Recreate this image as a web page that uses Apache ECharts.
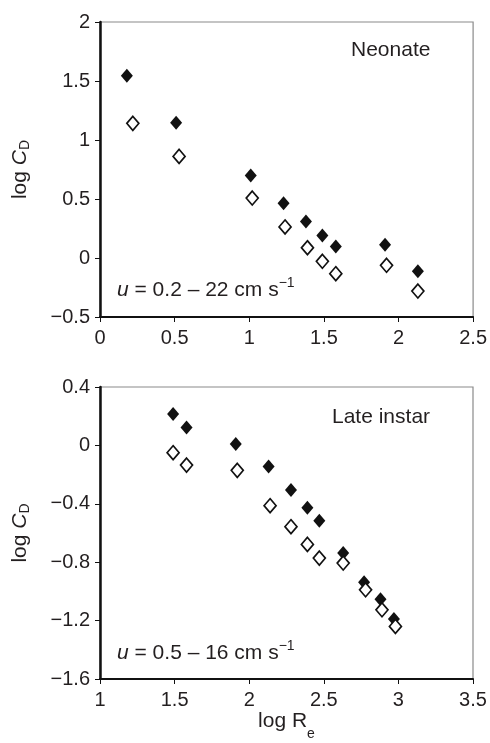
<!DOCTYPE html>
<html><head><meta charset="utf-8">
<script src="https://cdn.jsdelivr.net/npm/echarts@6/dist/echarts.min.js"></script>
<style>html,body{margin:0;padding:0;background:#fff}#c{width:490px;height:743px}</style>
</head><body><div id="c"></div>
<script>
// ---- Data ----
// Neonate panel
const neoFilledLogRe = [0.18, 0.51, 1.01, 1.23, 1.38, 1.49, 1.58, 1.91, 2.13];
const neoFilledLogCd = [1.545, 1.147, 0.70, 0.463, 0.31, 0.19, 0.098, 0.113, -0.113];
const neoOpenLogRe   = [0.22, 0.53, 1.02, 1.24, 1.39, 1.49, 1.58, 1.92, 2.13];
const neoOpenLogCd   = [1.141, 0.861, 0.508, 0.263, 0.087, -0.028, -0.133, -0.062, -0.28];
// Late instar panel
const lateFilledLogRe = [1.49, 1.58, 1.91, 2.13, 2.28, 2.39, 2.47, 2.63, 2.77, 2.88, 2.97];
const lateFilledLogCd = [0.215, 0.123, 0.009, -0.144, -0.306, -0.427, -0.516, -0.737, -0.938, -1.053, -1.189];
const lateOpenLogRe   = [1.49, 1.58, 1.92, 2.14, 2.28, 2.39, 2.47, 2.63, 2.78, 2.89, 2.98];
const lateOpenLogCd   = [-0.05, -0.135, -0.171, -0.413, -0.557, -0.678, -0.772, -0.806, -0.989, -1.126, -1.24];
// Axis ranges / ticks
const neoXRange = [0, 2.5, 0.5];
const neoYRange = [-0.5, 2, 0.5];
const lateXRange = [1, 3.5, 0.5];
const lateYRange = [-1.6, 0.4, 0.4];
// Texts
const panelTitles = ['Neonate', 'Late instar'];
const speedRanges = ['0.2 – 22', '0.5 – 16'];

const FONT = '"Liberation Sans", Arial, Helvetica, sans-serif';
const INK = '#231f20';

function pairs(xs, ys) { return xs.map((x, i) => [x, ys[i]]); }
function fmt(v) {
  let s = String(Math.round(v * 100) / 100);
  return s.replace('-', '\u2212');
}

const mainRich = {
  n: { fontSize: 21, fontFamily: FONT, color: INK, height: 22, verticalAlign: 'top' },
  i: { fontSize: 21, fontFamily: FONT, color: INK, fontStyle: 'italic', height: 22, verticalAlign: 'top' },
  subD: { fontSize: 14, fontFamily: FONT, color: INK, height: 33, verticalAlign: 'top' },
  subE: { fontSize: 14, fontFamily: FONT, color: INK, height: 47, verticalAlign: 'top' }
};

function xAxisCfg(gi, r, withName) {
  return {
    type: 'value', gridIndex: gi, min: r[0], max: r[1], interval: r[2],
    axisLine: { show: true, onZero: false, lineStyle: { color: '#111', width: 2 } },
    axisTick: { show: true, inside: false, length: 5, lineStyle: { color: '#111', width: 1 } },
    splitLine: { show: false },
    axisLabel: { fontSize: 20, fontFamily: FONT, color: INK, margin: 11, formatter: fmt },
    name: withName ? '{n|log R}{subE|e}' : '',
    nameLocation: 'middle', nameGap: 31,
    nameTextStyle: { rich: mainRich }
  };
}
function yAxisCfg(gi, r) {
  return {
    type: 'value', gridIndex: gi, min: r[0], max: r[1], interval: r[2],
    axisLine: { show: true, onZero: false, lineStyle: { color: '#111', width: 2.5 } },
    axisTick: { show: true, inside: false, length: 5, lineStyle: { color: '#111', width: 1 } },
    splitLine: { show: false },
    axisLabel: { fontSize: 20, fontFamily: FONT, color: INK, margin: 10, formatter: fmt },
    name: '{n|log }{i|C}{subD|D}',
    nameLocation: 'middle', nameRotate: 90, nameGap: 58,
    nameTextStyle: { rich: mainRich }
  };
}

const filledStyle = { color: '#111', opacity: 1 };
const openStyle = { color: '#fff', borderColor: '#111', borderWidth: 1.7, opacity: 1 };

function seriesCfg(gi, data, style) {
  return {
    type: 'scatter', xAxisIndex: gi, yAxisIndex: gi, data: data,
    symbol: 'diamond', symbolSize: [12, 14], itemStyle: style,
    emphasis: { disabled: true }, silent: true, animation: false
  };
}

function annot(x, y, speed) {
  return {
    type: 'text', x: x, y: y, silent: true,
    style: {
      text: '{i|u}{n| = ' + speed + ' cm s}{sup|\u22121}',
      rich: {
        i: { fontSize: 21, fontFamily: FONT, fill: INK, fontStyle: 'italic', height: 28, verticalAlign: 'bottom' },
        n: { fontSize: 21, fontFamily: FONT, fill: INK, height: 28, verticalAlign: 'bottom' },
        sup: { fontSize: 14, fontFamily: FONT, fill: INK, verticalAlign: 'top' }
      },
      verticalAlign: 'bottom'
    }
  };
}

const chart = echarts.init(document.getElementById('c'), null, { renderer: 'canvas' });
chart.setOption({
  animation: false,
  backgroundColor: '#fff',
  grid: [
    { left: 100, top: 22, width: 374, height: 295, show: true, borderColor: '#8a8a8a', borderWidth: 1.2, backgroundColor: 'transparent' },
    { left: 100, top: 387, width: 373, height: 292, show: true, borderColor: '#8a8a8a', borderWidth: 1.2, backgroundColor: 'transparent' }
  ],
  xAxis: [xAxisCfg(0, neoXRange, false), xAxisCfg(1, lateXRange, true)],
  yAxis: [yAxisCfg(0, neoYRange), yAxisCfg(1, lateYRange)],
  series: [
    seriesCfg(0, pairs(neoFilledLogRe, neoFilledLogCd), filledStyle),
    seriesCfg(0, pairs(neoOpenLogRe, neoOpenLogCd), openStyle),
    seriesCfg(1, pairs(lateFilledLogRe, lateFilledLogCd), filledStyle),
    seriesCfg(1, pairs(lateOpenLogRe, lateOpenLogCd), openStyle)
  ],
  graphic: [
    { type: 'text', x: 351, y: 50, silent: true,
      style: { text: panelTitles[0], font: '21px ' + FONT, fill: INK, verticalAlign: 'middle' } },
    { type: 'text', x: 332, y: 417, silent: true,
      style: { text: panelTitles[1], font: '21px ' + FONT, fill: INK, verticalAlign: 'middle' } },
    annot(117, 304, speedRanges[0]),
    annot(117, 667, speedRanges[1])
  ]
});
</script>
</body></html>
